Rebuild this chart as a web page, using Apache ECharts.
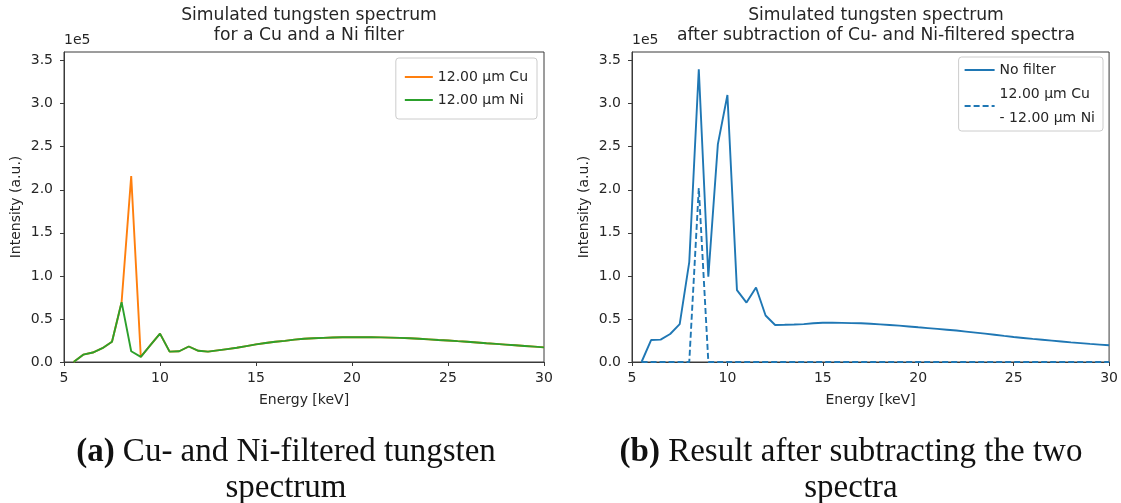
<!DOCTYPE html>
<html><head><meta charset="utf-8">
<script src="https://cdn.jsdelivr.net/npm/echarts@6/dist/echarts.min.js"></script>
<style>html,body{margin:0;padding:0;background:#fff}#c{width:1121px;height:503px}</style>
</head><body><div id="c"></div>
<script>
const energies = [5.5,6,6.5,7,7.5,8,8.5,9,9.5,10,10.5,11,11.5,12,12.5,13,13.5,14,14.5,15,15.5,16,16.5,17,17.5,18,18.5,19,19.5,20,20.5,21,21.5,22,22.5,23,23.5,24,24.5,25,25.5,26,26.5,27,27.5,28,28.5,29,29.5,30];
const cuFiltered = [0,8500,11000,16000,23500,69500,215800,6000,19500,33000,12000,12500,18000,13000,12000,13500,15000,16500,18500,20500,22000,23500,24500,26000,27000,27500,28000,28500,28700,28800,28800,28700,28600,28300,28000,27500,27000,26300,25600,25000,24200,23500,22700,21800,21000,20200,19400,18600,17800,17000];
const niFiltered = [0,8500,11000,16000,23500,69500,12500,6000,19500,33000,12000,12500,18000,13000,12000,13500,15000,16500,18500,20500,22000,23500,24500,26000,27000,27500,28000,28500,28700,28800,28800,28700,28600,28300,28000,27500,27000,26300,25600,25000,24200,23500,22700,21800,21000,20200,19400,18600,17800,17000];
const noFilter = [0,25500,26000,32500,44000,116000,340000,99000,253000,310000,83500,69000,86500,54000,43000,43200,43500,44000,45000,45600,45600,45400,45200,45000,44400,43700,43000,42200,41300,40300,39400,38500,37500,36500,35300,34100,32900,31700,30300,29000,27900,26800,25800,24800,23800,22800,21900,21000,20200,19400];
const cuMinusNi = [0,0,0,0,0,0,202000,0,0,0,0,0,0,0,0,0,0,0,0,0,0,0,0,0,0,0,0,0,0,0,0,0,0,0,0,0,0,0,0,0,0,0,0,0,0,0,0,0,0,0];
const xTicks = [5,10,15,20,25,30];
const yTickStep = 50000;

const pairs = ys => energies.map((e,i)=>[e, ys[i]]);
const TXT = '#262626', AX = '#3a3a3a';
const FONT = 'DejaVu Sans';
const FS = 14;

function xAxis(gi){
  return {type:'value', gridIndex:gi, min:5, max:30, interval:5,
    name:'Energy [keV]', nameLocation:'middle', nameGap:31,
    nameTextStyle:{fontFamily:FONT, fontSize:FS, color:TXT},
    axisLine:{show:true, lineStyle:{color:AX, width:1}},
    axisTick:{show:true, length:4, lineStyle:{color:AX}},
    axisLabel:{fontFamily:FONT, fontSize:FS, color:TXT, margin:9,
      formatter:v=> xTicks.includes(v)? String(v):''},
    splitLine:{show:false}};
}
function yAxis(gi){
  return {type:'value', gridIndex:gi, min:0, max:360000, interval:yTickStep,
    name:'Intensity (a.u.)', nameLocation:'middle', nameGap:41, nameRotate:90,
    nameTextStyle:{fontFamily:FONT, fontSize:FS, color:TXT},
    axisLine:{show:true, lineStyle:{color:AX, width:1}},
    axisTick:{show:true, length:4, lineStyle:{color:AX}},
    axisLabel:{fontFamily:FONT, fontSize:FS, color:TXT, margin:11, showMaxLabel:false,
      formatter:v=> (v % yTickStep === 0) ? (v/1e5).toFixed(1) : ''},
    splitLine:{show:false}};
}
const lw = 1.9;
const capStyle = {fontFamily:'Liberation Serif', fontSize:33, fontWeight:'normal', color:'#111', lineHeight:36,
  rich:{b:{fontFamily:'Liberation Serif', fontSize:33, fontWeight:'bold', color:'#111', lineHeight:36}}};
const titleStyle = {fontFamily:FONT, fontSize:17.2, fontWeight:'normal', color:TXT, lineHeight:19.5};
const chart = echarts.init(document.getElementById('c'), null, {renderer:'canvas'});
chart.setOption({
  backgroundColor:'#fff',
  animation:false,
  title:[
    {text:'Simulated tungsten spectrum\nfor a Cu and a Ni filter', left:304, top:1, textAlign:'center', textStyle:titleStyle},
    {text:'Simulated tungsten spectrum\nafter subtraction of Cu- and Ni-filtered spectra', left:871, top:1, textAlign:'center', textStyle:titleStyle},
    {text:'{b|(a)} Cu- and Ni-filtered tungsten\nspectrum', left:281, top:429, textAlign:'center', textStyle:capStyle},
    {text:'{b|(b)} Result after subtracting the two\nspectra', left:846, top:429, textAlign:'center', textStyle:capStyle}
  ],
  graphic:[
    {type:'text', left:64, top:33, style:{text:'1e5', font:'14px "DejaVu Sans"', fill:TXT}},
    {type:'text', left:632, top:33, style:{text:'1e5', font:'14px "DejaVu Sans"', fill:TXT}}
  ],
  legend:[
    {orient:'vertical', right:584, top:58, itemWidth:28, itemHeight:12, itemGap:7,
     padding:[11,9,11,8], borderColor:'#cccccc', borderWidth:1, borderRadius:3, backgroundColor:'#fff',
     itemStyle:{opacity:0},
     textStyle:{fontFamily:FONT, fontSize:FS, color:TXT, lineHeight:16},
     data:[{name:'12.00 μm Cu'},{name:'12.00 μm Ni'}]},
    {orient:'vertical', right:18, top:57, itemWidth:30, itemHeight:12, itemGap:0,
     padding:[1,8,1,5], borderColor:'#cccccc', borderWidth:1, borderRadius:3, backgroundColor:'#fff',
     itemStyle:{opacity:0},
     textStyle:{fontFamily:FONT, fontSize:FS, color:TXT, lineHeight:24},
     data:[{name:'No filter'},{name:'12.00 μm Cu\n- 12.00 μm Ni'}]}
  ],
  grid:[
    {left:64, right:577, top:52, bottom:141, show:true, borderColor:AX, borderWidth:1, backgroundColor:'transparent'},
    {left:632, right:10, top:52, bottom:141, show:true, borderColor:AX, borderWidth:1, backgroundColor:'transparent'}
  ],
  xAxis:[xAxis(0), xAxis(1)],
  yAxis:[yAxis(0), yAxis(1)],
  series:[
    {name:'12.00 μm Cu', type:'line', xAxisIndex:0, yAxisIndex:0, data:pairs(cuFiltered), showSymbol:false, symbol:'none',
     lineStyle:{color:'#ff7f0e', width:lw}, itemStyle:{color:'#ff7f0e'}},
    {name:'12.00 μm Ni', type:'line', xAxisIndex:0, yAxisIndex:0, data:pairs(niFiltered), showSymbol:false, symbol:'none',
     lineStyle:{color:'#2ca02c', width:lw}, itemStyle:{color:'#2ca02c'}},
    {name:'No filter', type:'line', xAxisIndex:1, yAxisIndex:1, data:pairs(noFilter), showSymbol:false, symbol:'none',
     lineStyle:{color:'#1f77b4', width:lw}, itemStyle:{color:'#1f77b4'}},
    {name:'12.00 μm Cu\n- 12.00 μm Ni', type:'line', xAxisIndex:1, yAxisIndex:1, data:pairs(cuMinusNi), showSymbol:false, symbol:'none',
     lineStyle:{color:'#1f77b4', width:lw, type:[6,3]}, itemStyle:{color:'#1f77b4'}}
  ]
});
</script></body></html>
